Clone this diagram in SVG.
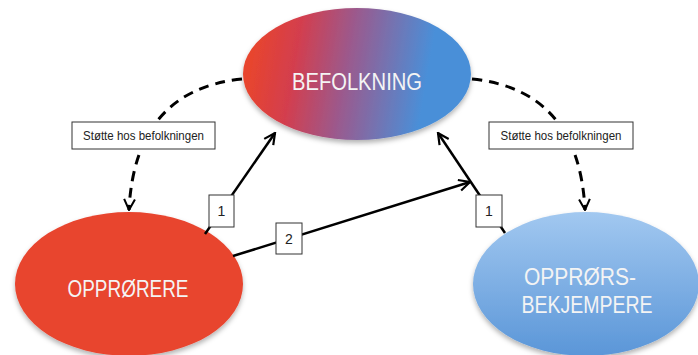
<svg xmlns="http://www.w3.org/2000/svg" width="698" height="355" viewBox="0 0 698 355">
<style>
.lbl{font-family:"Liberation Sans",Arial,sans-serif;fill:#f4f4f4;font-size:23.5px;text-anchor:middle}
.box{fill:#fff;stroke:#333;stroke-width:1}
.btxt{font-family:"Liberation Sans",Arial,sans-serif;fill:#222;font-size:12.5px;text-anchor:middle}
.ntxt{font-family:"Liberation Sans",Arial,sans-serif;fill:#222;font-size:14px;text-anchor:middle}
.solid{fill:none;stroke:#000;stroke-width:2.5;marker-end:url(#arr)}
.dash{fill:none;stroke:#000;stroke-width:3;stroke-dasharray:10 7;marker-end:url(#arr2)}
</style>
<defs>
<linearGradient id="gBef" gradientUnits="userSpaceOnUse" x1="250" y1="60" x2="425" y2="90">
<stop offset="0" stop-color="#e8452d"/>
<stop offset="0.25" stop-color="#d33e4e"/>
<stop offset="0.55" stop-color="#9a5a8e"/>
<stop offset="1" stop-color="#4a8fd8"/>
</linearGradient>
<linearGradient id="gBlue" x1="0" y1="0" x2="0" y2="1">
<stop offset="0" stop-color="#a2c8f0"/>
<stop offset="1" stop-color="#5a96d8"/>
</linearGradient>
<filter id="sh" x="-20%" y="-20%" width="140%" height="150%">
<feDropShadow dx="0" dy="3" stdDeviation="2.5" flood-color="#000" flood-opacity="0.3"/>
</filter>
<marker id="arr" viewBox="0 0 10 10" refX="9" refY="5" markerWidth="5.5" markerHeight="5.5" orient="auto" markerUnits="strokeWidth">
<path d="M1,1 L9,5 L1,9" fill="none" stroke="#000" stroke-width="1.6"/>
</marker>
<marker id="arr2" viewBox="0 0 10 10" refX="9" refY="5" markerWidth="4.5" markerHeight="4.5" orient="auto" markerUnits="strokeWidth">
<path d="M1,1 L9,5 L1,9" fill="none" stroke="#000" stroke-width="1.5"/>
</marker>
</defs>

<g id="befolkning">
<ellipse cx="357" cy="74" rx="114" ry="66" fill="url(#gBef)" filter="url(#sh)"/>
<text class="lbl" x="357" y="90" textLength="130" lengthAdjust="spacingAndGlyphs">BEFOLKNING</text>
</g>
<g id="opprorere">
<ellipse cx="129" cy="284" rx="114" ry="72" fill="#e8442f" filter="url(#sh)"/>
<text class="lbl" x="128" y="297" textLength="121" lengthAdjust="spacingAndGlyphs">OPPRØRERE</text>
</g>
<g id="opprorsbekjempere">
<ellipse cx="586" cy="284" rx="113" ry="72" fill="url(#gBlue)" filter="url(#sh)"/>
<text class="lbl" x="580" y="285" textLength="112" lengthAdjust="spacingAndGlyphs">OPPRØRS-</text>
<text class="lbl" x="587" y="313" textLength="131" lengthAdjust="spacingAndGlyphs">BEKJEMPERE</text>
</g>

<g id="connectors">
<path class="dash" d="M242,79 Q135,90 129,210"/>
<path class="dash" d="M472,79 Q579,90 585,210"/>
<path class="solid" d="M205,234 L275,133"/>
<path class="solid" d="M233,256 L470,182"/>
<path class="solid" d="M505,233 L438,133"/>
</g>

<g id="label-left">
<rect class="box" x="72" y="122" width="143" height="27"/>
<text class="btxt" x="143.5" y="140" textLength="121" lengthAdjust="spacingAndGlyphs">Støtte hos befolkningen</text>
</g>
<g id="label-right">
<rect class="box" x="489" y="122" width="144" height="27"/>
<text class="btxt" x="561" y="140" textLength="121" lengthAdjust="spacingAndGlyphs">Støtte hos befolkningen</text>
</g>
<g id="label-1a">
<rect class="box" x="209" y="195" width="25" height="32"/>
<text class="ntxt" x="221.5" y="216">1</text>
</g>
<g id="label-2">
<rect class="box" x="276" y="223" width="26" height="31"/>
<text class="ntxt" x="289" y="244">2</text>
</g>
<g id="label-1b">
<rect class="box" x="476" y="195" width="26" height="32"/>
<text class="ntxt" x="489" y="216">1</text>
</g>
</svg>
